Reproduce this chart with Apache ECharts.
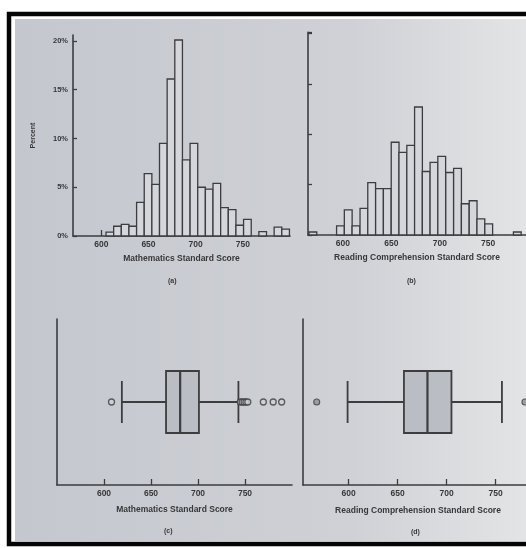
<!DOCTYPE html>
<html><head><meta charset="utf-8">
<script src="https://cdn.jsdelivr.net/npm/echarts@6/dist/echarts.min.js"></script>
<style>html,body{margin:0;padding:0;background:#fff}#c{width:526px;height:548px}</style>
</head><body><div id="c"></div>
<script>
// ---- data ----
const scoreTicks = [600, 650, 700, 750];
const percentTicks = [0, 5, 10, 15, 20];

const mathBinWidth = 8.1;
const mathBinStart = [605, 613.1, 621.2, 629.3, 637.4, 645.5, 653.6, 661.7, 669.8, 677.9, 686, 694.1, 702.2, 710.3, 718.4, 726.5, 734.6, 742.7, 750.8, 767, 783.2, 791.3];
const mathPercent  = [0.4, 1.0, 1.2, 1.0, 3.45, 6.4, 5.3, 9.5, 16.1, 20.1, 7.8, 9.5, 5.0, 4.8, 5.4, 2.9, 2.7, 1.1, 1.7, 0.45, 0.9, 0.7];

const readBinWidth = 8.05;
const readBinStart = [565, 593.5, 601.5, 609.5, 617.7, 625.7, 633.8, 641.8, 649.9, 657.9, 666, 674, 682, 690, 698, 706.2, 714.3, 722.3, 730.4, 738.4, 746.5, 776];
const readPercent  = [0.3, 0.9, 2.5, 0.9, 2.65, 5.2, 4.6, 4.6, 9.2, 8.2, 8.9, 12.7, 6.3, 7.2, 7.8, 6.2, 6.6, 3.1, 3.4, 1.6, 1.1, 0.3];

// [lower whisker, Q1, median, Q3, upper whisker]
const mathBox = [619, 666, 681, 701, 743];
const mathOutliers = [608, 745, 747, 749, 751, 753, 769.5, 780, 789];
const readBox = [599, 656.5, 680.5, 705, 756.5];
const readOutliers = [567.5, 780];

const mathTitle = 'Mathematics Standard Score';
const readTitle = 'Reading Comprehension Standard Score';
const panelLabels = ['(a)', '(b)', '(c)', '(d)'];
// ------------------------------------

const ink = '#3d3d3f';
const textCol = '#38383a';
const font = '"Liberation Sans", Arial, sans-serif';

function barRender(width) {
  return function (params, api) {
    const s = api.value(0), v = api.value(1);
    const p0 = api.coord([s, 0]);
    const p1 = api.coord([s + width, v]);
    return {
      type: 'rect',
      shape: { x: p0[0], y: p1[1], width: p1[0] - p0[0], height: p0[1] - p1[1] },
      style: { fill: '#d4d6db', stroke: ink, lineWidth: 1.3 }
    };
  };
}

function boxRender(params, api) {
  const lo = api.value(1), q1 = api.value(2), md = api.value(3), q3 = api.value(4), hi = api.value(5);
  const y = api.coord([q1, 0])[1];
  const xLo = api.coord([lo, 0])[0], xQ1 = api.coord([q1, 0])[0], xMd = api.coord([md, 0])[0];
  const xQ3 = api.coord([q3, 0])[0], xHi = api.coord([hi, 0])[0];
  const bh = 31, ch = 21;
  const ls = { stroke: ink, lineWidth: 1.8 };
  return {
    type: 'group',
    children: [
      { type: 'line', shape: { x1: xLo, y1: y, x2: xQ1, y2: y }, style: ls },
      { type: 'line', shape: { x1: xQ3, y1: y, x2: xHi, y2: y }, style: ls },
      { type: 'line', shape: { x1: xLo, y1: y - ch, x2: xLo, y2: y + ch }, style: ls },
      { type: 'line', shape: { x1: xHi, y1: y - ch, x2: xHi, y2: y + ch }, style: ls },
      { type: 'rect', shape: { x: xQ1, y: y - bh, width: xQ3 - xQ1, height: 2 * bh }, style: { fill: '#babdc3', stroke: ink, lineWidth: 1.8 } },
      { type: 'line', shape: { x1: xMd, y1: y - bh, x2: xMd, y2: y + bh }, style: { stroke: ink, lineWidth: 2.2 } }
    ]
  };
}

const axisLineStyle = { color: ink, width: 1.6 };
const labelStyle = { color: textCol, fontSize: 8.5, fontFamily: font, fontWeight: 'bold' };

function scoreAxis(gridIndex, min, max, name, nameGap) {
  return {
    type: 'value', gridIndex, min, max,
    splitLine: { show: false },
    axisLine: { show: true, lineStyle: axisLineStyle },
    axisTick: { show: true, inside: true, length: 6, lineStyle: { color: ink, width: 1.3 }, customValues: scoreTicks },
    axisLabel: Object.assign({ margin: 4, customValues: scoreTicks }, labelStyle),
    name, nameLocation: 'middle', nameGap,
    nameTextStyle: { color: textCol, fontSize: 8.5, fontFamily: font, fontWeight: 'bold' }
  };
}

const chart = echarts.init(document.getElementById('c'), null, { renderer: 'canvas' });

const option = {
  backgroundColor: '#ffffff',
  animation: false,
  graphic: [
    {
      type: 'rect', z: -20, silent: true,
      shape: { x: 15, y: 19, width: 520, height: 522 },
      style: {
        fill: new echarts.graphic.LinearGradient(0, 0, 1, 0, [
          { offset: 0, color: '#c4c7ce' },
          { offset: 0.65, color: '#cfd1d6' },
          { offset: 1, color: '#e4e5e6' }
        ])
      }
    },
    {
      type: 'rect', z: -19, silent: true,
      shape: { x: 9, y: 14, width: 530, height: 530 },
      style: { fill: 'none', stroke: '#050505', lineWidth: 4.5 }
    },
    { type: 'text', left: 168, top: 278, style: { text: panelLabels[0], fill: textCol, font: 'bold 7px ' + font } },
    { type: 'text', left: 407, top: 278, style: { text: panelLabels[1], fill: textCol, font: 'bold 7px ' + font } },
    { type: 'text', left: 164, top: 528, style: { text: panelLabels[2], fill: textCol, font: 'bold 7px ' + font } },
    { type: 'text', left: 411, top: 529, style: { text: panelLabels[3], fill: textCol, font: 'bold 7px ' + font } }
  ],
  grid: [
    { left: 73, top: 35.1, width: 217, height: 200.9, outerBoundsMode: 'none', containLabel: false },
    { left: 308, top: 32.4, width: 218, height: 202.6, outerBoundsMode: 'none', containLabel: false },
    { left: 57, top: 319, width: 235, height: 166, outerBoundsMode: 'none', containLabel: false },
    { left: 303, top: 319, width: 230, height: 166, outerBoundsMode: 'none', containLabel: false }
  ],
  xAxis: [
    scoreAxis(0, 570, 800, mathTitle, 18),
    scoreAxis(1, 564, 789, readTitle, 18),
    scoreAxis(2, 550, 800, mathTitle, 20),
    scoreAxis(3, 553.5, 788.2, readTitle, 21)
  ],
  yAxis: [
    {
      type: 'value', gridIndex: 0, min: 0, max: 20.6, interval: 5,
      splitLine: { show: false },
      axisLine: { show: true, lineStyle: axisLineStyle },
      axisTick: { show: true, inside: true, length: 4, lineStyle: { color: ink, width: 1.3 } },
      axisLabel: Object.assign({ margin: 5, formatter: '{value}%', showMaxLabel: false }, labelStyle, { fontSize: 7.5 }),
      name: 'Percent', nameLocation: 'middle', nameRotate: 90, nameGap: 36,
      nameTextStyle: { color: textCol, fontSize: 7, fontFamily: font, fontWeight: 'bold' }
    },
    {
      type: 'value', gridIndex: 1, min: 0, max: 20.1, interval: 5,
      splitLine: { show: false },
      axisLine: { show: true, lineStyle: axisLineStyle },
      axisTick: { show: true, inside: true, length: 4, lineStyle: { color: ink, width: 1.3 } },
      axisLabel: { show: false }
    },
    {
      type: 'category', gridIndex: 2, data: ['Mathematics'],
      axisLine: { show: true, lineStyle: axisLineStyle },
      axisTick: { show: false }, axisLabel: { show: false }, splitLine: { show: false }
    },
    {
      type: 'category', gridIndex: 3, data: ['Reading'],
      axisLine: { show: true, lineStyle: axisLineStyle },
      axisTick: { show: false }, axisLabel: { show: false }, splitLine: { show: false }
    }
  ],
  series: [
    {
      type: 'custom', xAxisIndex: 0, yAxisIndex: 0,
      renderItem: barRender(mathBinWidth),
      encode: { x: 0, y: 1 },
      data: mathBinStart.map((s, i) => [s, mathPercent[i]])
    },
    {
      type: 'custom', xAxisIndex: 1, yAxisIndex: 1,
      renderItem: barRender(readBinWidth),
      encode: { x: 0, y: 1 },
      data: readBinStart.map((s, i) => [s, readPercent[i]])
    },
    {
      type: 'custom', xAxisIndex: 2, yAxisIndex: 2,
      renderItem: boxRender,
      encode: { x: [1, 2, 3, 4, 5], y: 0 },
      data: [[0].concat(mathBox)]
    },
    {
      type: 'custom', xAxisIndex: 3, yAxisIndex: 3,
      renderItem: boxRender,
      encode: { x: [1, 2, 3, 4, 5], y: 0 },
      data: [[0].concat(readBox)]
    },
    {
      type: 'scatter', xAxisIndex: 2, yAxisIndex: 2, symbol: 'circle', symbolSize: 6,
      itemStyle: { color: '#d0d2d7', borderColor: ink, borderWidth: 1.3 },
      data: mathOutliers.map(v => [v, 0])
    },
    {
      type: 'scatter', xAxisIndex: 3, yAxisIndex: 3, symbol: 'circle', symbolSize: 6,
      itemStyle: { color: '#8d8f94', borderColor: ink, borderWidth: 1.1 },
      data: readOutliers.map(v => [v, 0])
    }
  ]
};
chart.setOption(option);
</script>
</body></html>
